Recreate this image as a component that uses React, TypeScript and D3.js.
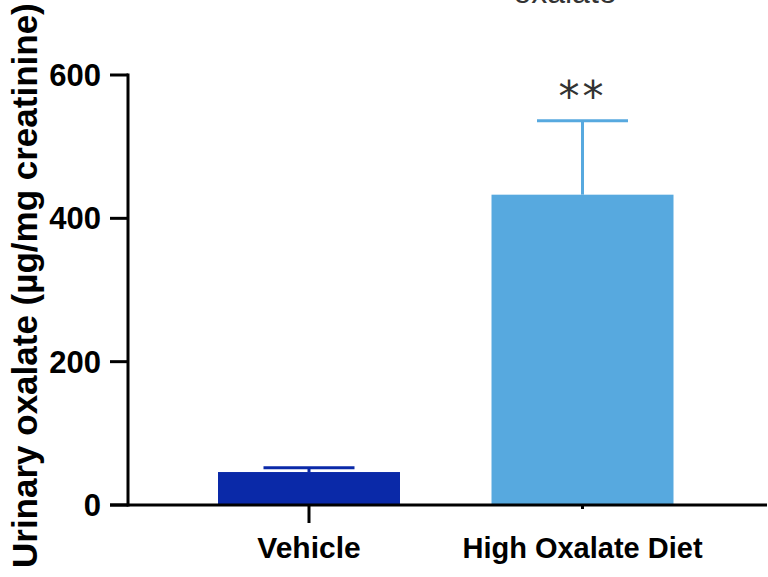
import React from "react";
import * as d3 from "d3";

const categories = ["Vehicle", "High Oxalate Diet"];
const means = [46, 433];
const errors = [6, 103];
const barColors = ["#0a29a8", "#57a9df"];
const yTicks = [0, 200, 400, 600];
const significance = ["", "**"];
const yLabel = "Urinary oxalate (\u00b5g/mg creatinine)";
const topTitle = "oxalate";

const W = 768;
const H = 577;
const FONT = "'Liberation Sans', Arial, Helvetica, sans-serif";

export default function App() {
  const y = d3.scaleLinear().domain([0, 600]).range([505, 75]);
  const x = d3
    .scaleBand<string>()
    .domain(categories)
    .range([218, 673.5])
    .paddingInner(0.3346)
    .paddingOuter(0);
  const bw = x.bandwidth();
  const axisX = 128;
  const capW = 91;

  return (
    <svg
      width={W}
      height={H}
      style={{ position: "absolute", left: 0, top: 0, background: "#fff" }}
      fontFamily={FONT}
    >
      <text x={565} y={3} textAnchor="middle" fontSize={32} fill="#333">
        {topTitle}
      </text>

      {/* bars */}
      {categories.map((c, i) => {
        const x0 = x(c)!;
        const cx = x0 + bw / 2;
        return (
          <g key={c}>
            <rect
              x={x0}
              y={y(means[i])}
              width={bw}
              height={y(0) - y(means[i])}
              fill={barColors[i]}
            />
            <line
              x1={cx}
              x2={cx}
              y1={y(means[i])}
              y2={y(means[i] + errors[i])}
              stroke={barColors[i]}
              strokeWidth={3}
            />
            <line
              x1={cx - capW / 2}
              x2={cx + capW / 2}
              y1={y(means[i] + errors[i])}
              y2={y(means[i] + errors[i])}
              stroke={barColors[i]}
              strokeWidth={3}
            />
            {significance[i] && (
              <text
                x={cx}
                y={y(means[i] + errors[i]) - 10}
                textAnchor="middle"
                fontSize={42}
                fill="#333"
                fontFamily="'DejaVu Sans', sans-serif"
                letterSpacing={3}
              >
                {significance[i]}
              </text>
            )}
          </g>
        );
      })}

      {/* y axis */}
      <line x1={axisX} x2={axisX} y1={y(600) - 1.5} y2={y(0) + 1.5} stroke="#000" strokeWidth={3} />
      {yTicks.map((t) => (
        <g key={t}>
          <line x1={110} x2={axisX} y1={y(t)} y2={y(t)} stroke="#000" strokeWidth={3} />
          <text
            x={101}
            y={y(t)}
            dy="0.36em"
            textAnchor="end"
            fontSize={31}
            fontWeight="bold"
            fill="#000"
          >
            {t}
          </text>
        </g>
      ))}

      {/* x axis */}
      <line x1={110} x2={767} y1={y(0)} y2={y(0)} stroke="#000" strokeWidth={3} />
      {categories.map((c, i) => {
        const cx = x(c)! + bw / 2;
        return (
          <g key={c}>
            <line
              x1={cx}
              x2={cx}
              y1={y(0)}
              y2={i === 0 ? 523 : 509}
              stroke="#000"
              strokeWidth={3}
            />
            <text
              x={cx}
              y={558}
              textAnchor="middle"
              fontSize={i === 0 ? 30 : 29}
              fontWeight="bold"
              fill="#000"
            >
              {c}
            </text>
          </g>
        );
      })}

      <text
        transform={`translate(37, 568) rotate(-90)`}
        x={0}
        y={0}
        textAnchor="start"
        fontSize={35}
        fontWeight="bold"
        fill="#000"
      >
        {yLabel}
      </text>
    </svg>
  );
}
